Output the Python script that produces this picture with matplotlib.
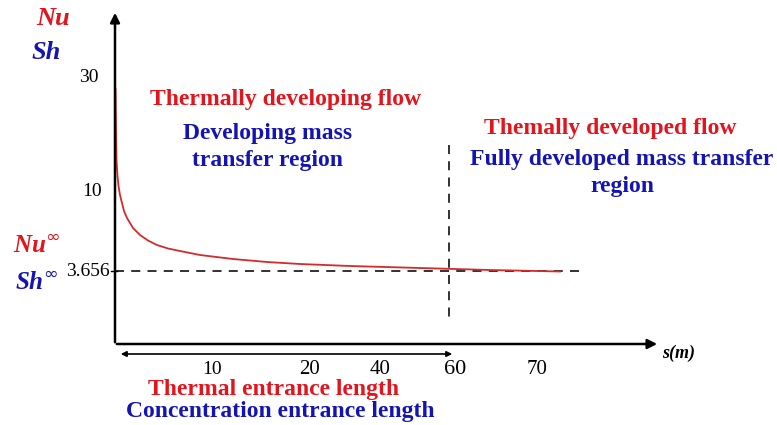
import matplotlib
matplotlib.use("Agg")
import matplotlib.pyplot as plt

# schematic coordinates (pixels of the original sketch, y pointing down)
curve_s = [115.5, 116, 116.5, 117.5, 118.5, 120, 122, 124, 127, 133, 140, 148, 157, 168,
           180, 200, 233, 267, 300, 350, 420, 490, 560]
curve_nu = [89, 130, 160, 176, 186, 195, 203, 211, 218, 228, 235, 240.5, 245, 248.5,
            251, 255, 259, 262, 264, 266, 268, 270, 271.5]

x_tick_pos = [212, 309, 380, 455, 537]
x_tick_labels = ["10", "20", "40", "60", "70"]
x_tick_sizes = [14, 15, 15, 16, 15]
y_tick_pos = [77, 191, 271]
y_tick_right = [99, 102, 110]
y_tick_labels = ["30", "10", "3.656"]

red = "#e3141c"
blue = "#1414b4"
serif = "Liberation Serif"

fig = plt.figure(figsize=(7.77, 4.25), dpi=100)
ax = fig.add_axes([0, 0, 1, 1])
ax.set_xlim(0, 777)
ax.set_ylim(425, 0)
ax.axis("off")

# axes with arrows
ax.annotate("", xy=(115, 10), xytext=(115, 345),
            arrowprops=dict(arrowstyle="-|>", color="black", lw=1.8, mutation_scale=14))
ax.annotate("", xy=(660, 344), xytext=(114, 344),
            arrowprops=dict(arrowstyle="-|>", color="black", lw=1.8, mutation_scale=14))

# fully developed asymptote and boundary
ax.plot([115, 580], [271, 271], color="#222222", lw=1.3, dashes=(5, 4))
ax.plot([449, 449], [145, 322], color="#222222", lw=1.3, dashes=(5, 4))

# Nu / Sh curve
ax.plot(curve_s, curve_nu, color="#d42a2a", lw=1.3)

# entrance length arrow
ax.annotate("", xy=(118, 354), xytext=(455, 354),
            arrowprops=dict(arrowstyle="<|-|>", color="black", lw=1.2, mutation_scale=8))

for p, lab, fs in zip(x_tick_pos, x_tick_labels, x_tick_sizes):
    ax.text(p, 370, lab, fontsize=fs, family=serif, ha="center", va="center")
for p, r, lab in zip(y_tick_pos, y_tick_right, y_tick_labels):
    ax.text(r, p, lab, fontsize=14, family=serif, ha="right", va="center")
ax.plot([111, 117], [271, 271], color="black", lw=1)

ax.text(662, 353, "s(m)", fontsize=13, family=serif, weight="bold", style="italic",
        ha="left", va="center")

ax.text(70, 18, "Nu", fontsize=19, family=serif, weight="bold", style="italic",
        color=red, ha="right", va="center")
ax.text(61, 52, "Sh", fontsize=19, family=serif, weight="bold", style="italic",
        color=blue, ha="right", va="center")
ax.text(13, 246, r"Nu$^{\infty}$", fontsize=18, family=serif, weight="bold", style="italic",
        color=red, ha="left", va="center")
ax.text(15, 284, r"Sh$^{\infty}$", fontsize=18, family=serif, weight="bold", style="italic",
        color=blue, ha="left", va="center")

bold = dict(family=serif, weight="bold", fontsize=17)
ax.text(285, 99, "Thermally developing flow", color=red, ha="center", va="center", **bold)
ax.text(268, 147, "Developing mass\ntransfer region", color=blue, ha="center", va="center",
        linespacing=1.38, **bold)
ax.text(610, 128, "Themally developed flow", color=red, ha="center", va="center", **bold)
ax.text(622, 173, "Fully developed mass transfer\nregion", color=blue, ha="center", va="center",
        linespacing=1.38, **bold)
ax.text(274, 389, "Thermal entrance length", color=red, ha="center", va="center", **bold)
ax.text(280, 411, "Concentration entrance length", color=blue, ha="center", va="center", **bold)

fig.savefig("out.png", dpi=100)
